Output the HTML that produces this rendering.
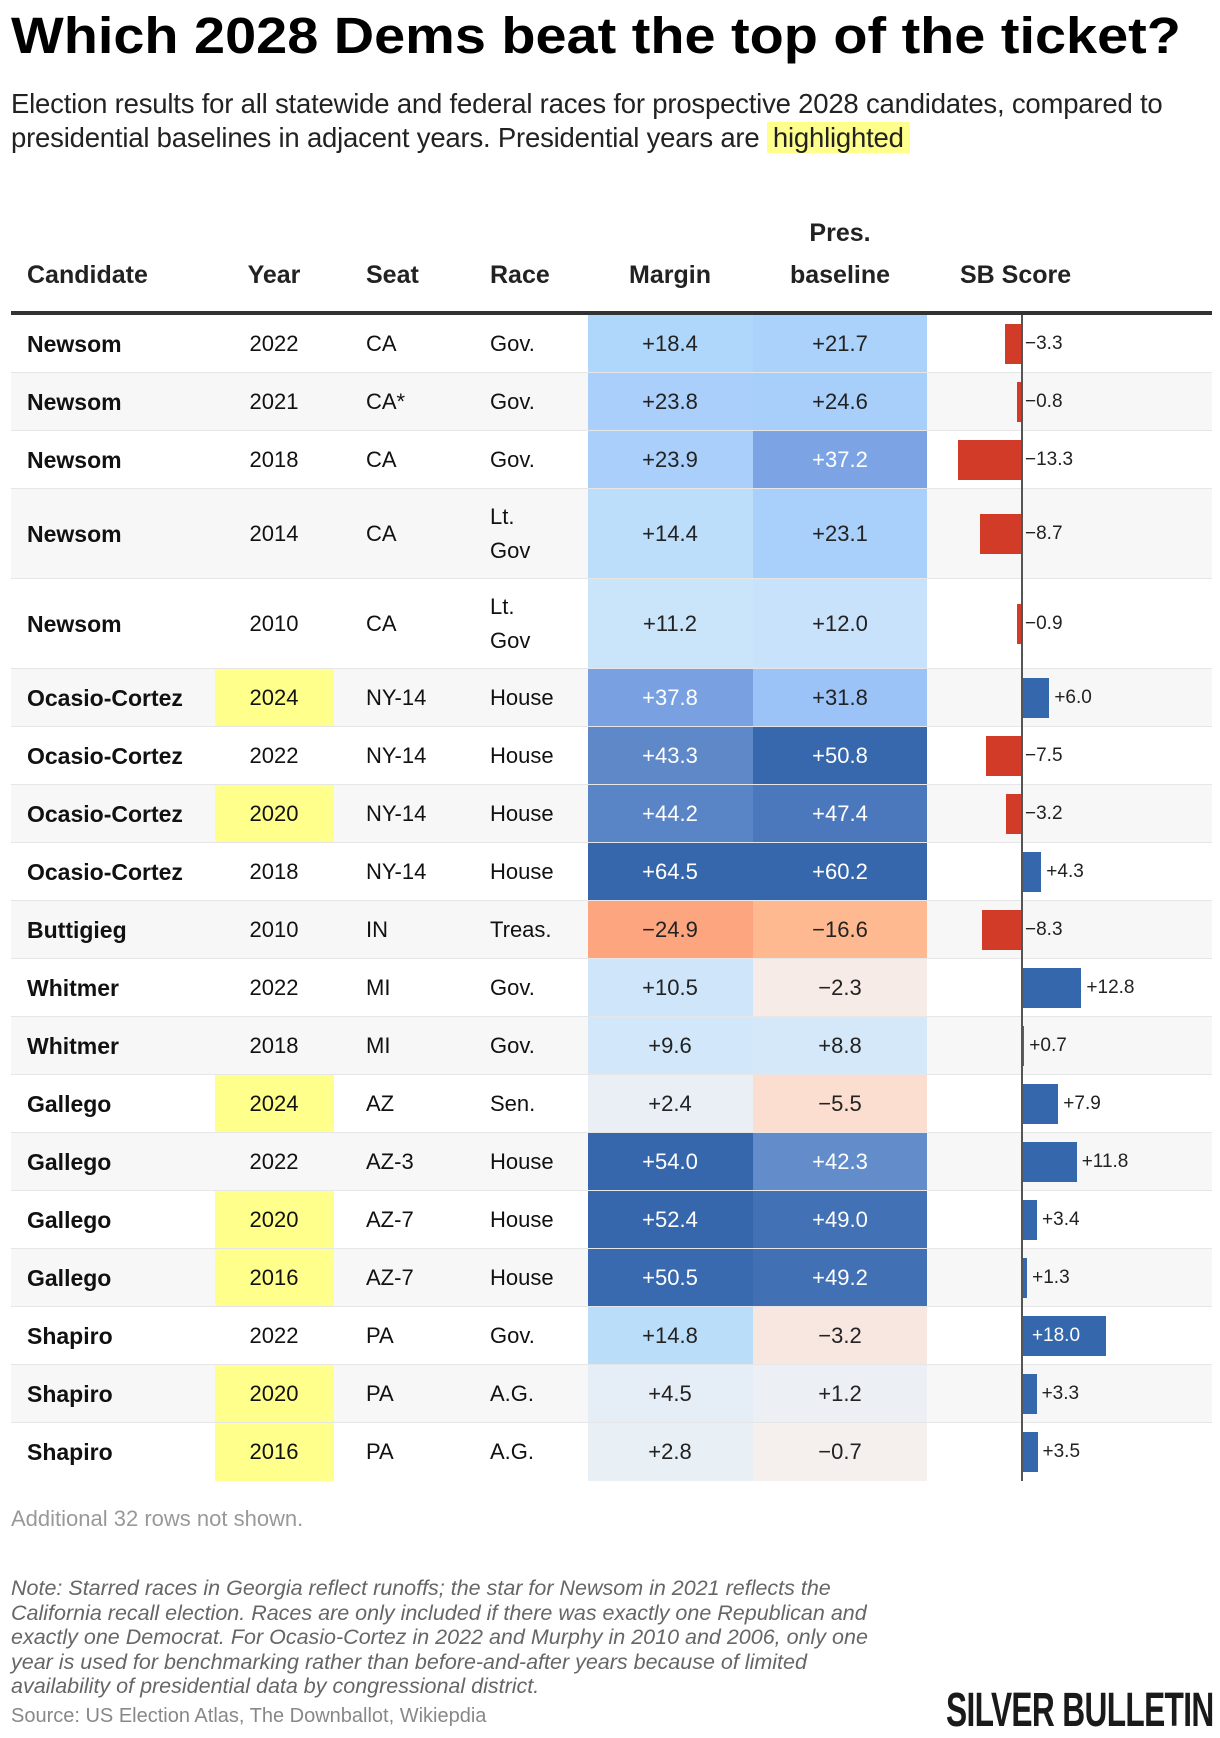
<!DOCTYPE html>
<html><head><meta charset="utf-8">
<style>
body{margin:0;width:1220px;height:1736px;background:#fff;position:relative;overflow:hidden;font-family:"Liberation Sans",sans-serif;color:#111}
.abs{position:absolute;white-space:nowrap}
#title{left:11px;top:6px;font-weight:bold;font-size:51px;color:#000;transform:scaleX(1.095);transform-origin:left top}
.sub{left:11px;font-size:27.5px;color:#222;letter-spacing:-0.2px}
.hl{background:#ffff8c;padding:0 6px}
.hdr{font-weight:bold;font-size:25px;color:#222}
.cell{font-size:22px;line-height:30px}
.cand{font-weight:bold;font-size:23px}
#note{left:11px;top:1576px;font-style:italic;font-size:21.5px;color:#666;line-height:24.5px;white-space:normal;width:865px}
</style></head><body>
<div class="abs" id="title">Which 2028 Dems beat the top of the ticket?</div>
<div class="abs sub" style="top:88px">Election results for all statewide and federal races for prospective 2028 candidates, compared to</div>
<div class="abs sub" style="top:122px">presidential baselines in adjacent years. Presidential years are <span class="hl">highlighted</span></div>

<div class="abs hdr" style="left:27px;top:261px">Candidate</div>
<div class="abs hdr" style="left:274px;top:261px;transform:translateX(-50%)">Year</div>
<div class="abs hdr" style="left:366px;top:261px">Seat</div>
<div class="abs hdr" style="left:490px;top:261px">Race</div>
<div class="abs hdr" style="left:670px;top:261px;transform:translateX(-50%)">Margin</div>
<div class="abs hdr" style="left:840px;top:219px;transform:translateX(-50%)">Pres.</div>
<div class="abs hdr" style="left:840px;top:261px;transform:translateX(-50%)">baseline</div>
<div class="abs hdr" style="left:960px;top:261px">SB Score</div>
<div class="abs" style="left:11px;top:311px;width:1201px;height:4px;background:#333"></div>

<div id="rows"></div>

<div class="abs" style="left:11px;top:1506px;font-size:22px;color:#999">Additional 32 rows not shown.</div>
<div class="abs" id="note">Note: Starred races in Georgia reflect runoffs; the star for Newsom in 2021 reflects the California recall election. Races are only included if there was exactly one Republican and exactly one Democrat. For Ocasio-Cortez in 2022 and Murphy in 2010 and 2006, only one year is used for benchmarking rather than before-and-after years because of limited availability of presidential data by congressional district.</div>
<div class="abs" style="left:11px;top:1705px;font-size:20px;color:#888">Source: US Election Atlas, The Downballot, Wikiepdia</div>
<div class="abs" style="left:946px;top:1683px;font-size:48px;font-weight:bold;color:#1a1a1a;letter-spacing:-1px;transform:scaleX(0.66);transform-origin:left top">SILVER BULLETIN</div>

<script>
const candidates=["Newsom","Newsom","Newsom","Newsom","Newsom","Ocasio-Cortez","Ocasio-Cortez","Ocasio-Cortez","Ocasio-Cortez","Buttigieg","Whitmer","Whitmer","Gallego","Gallego","Gallego","Gallego","Shapiro","Shapiro","Shapiro"];
const years=[2022,2021,2018,2014,2010,2024,2022,2020,2018,2010,2022,2018,2024,2022,2020,2016,2022,2020,2016];
const seats=["CA","CA*","CA","CA","CA","NY-14","NY-14","NY-14","NY-14","IN","MI","MI","AZ","AZ-3","AZ-7","AZ-7","PA","PA","PA"];
const races=["Gov.","Gov.","Gov.","Lt.|Gov","Lt.|Gov","House","House","House","House","Treas.","Gov.","Gov.","Sen.","House","House","House","Gov.","A.G.","A.G."];
const margins=[18.4,23.8,23.9,14.4,11.2,37.8,43.3,44.2,64.5,-24.9,10.5,9.6,2.4,54.0,52.4,50.5,14.8,4.5,2.8];
const baselines=[21.7,24.6,37.2,23.1,12.0,31.8,50.8,47.4,60.2,-16.6,-2.3,8.8,-5.5,42.3,49.0,49.2,-3.2,1.2,-0.7];
const sbScores=[-3.3,-0.8,-13.3,-8.7,-0.9,6.0,-7.5,-3.2,4.3,-8.3,12.8,0.7,7.9,11.8,3.4,1.3,18.0,3.3,3.5];

const ZERO=1021, PXU=4.72;
function sx(v){return ZERO+v*PXU;}
function fmt(v){return (v<0?"\u2212":"+")+Math.abs(v).toFixed(1);}
const posStops=[[0,[238,241,244]],[5,[228,237,246]],[10,[208,230,250]],[15,[185,221,250]],[20,[171,212,252]],[25,[168,206,250]],[32,[155,195,248]],[37,[125,165,229]],[43,[95,137,200]],[48,[72,118,187]],[51,[54,103,172]],[70,[54,103,172]]];
const negStops=[[0,[244,241,240]],[2.5,[247,234,230]],[6,[252,220,204]],[16,[254,186,146]],[25,[252,165,127]],[40,[245,130,95]]];
function interp(stops,a){for(let i=1;i<stops.length;i++){if(a<=stops[i][0]){const [x0,c0]=stops[i-1],[x1,c1]=stops[i];const t=(a-x0)/(x1-x0);return 'rgb('+c0.map((c,k)=>Math.round(c+(c1[k]-c)*t)).join(',')+')';}}return 'rgb('+stops[stops.length-1][1].join(',')+')';}
function color(v){return v>=0?interp(posStops,v):interp(negStops,-v);}

const root=document.getElementById('rows');
let y=315;
function div(css,txt){const d=document.createElement('div');d.className='abs';d.style.cssText=css;if(txt!==undefined)d.textContent=txt;root.appendChild(d);return d;}
for(let i=0;i<candidates.length;i++){
  const tall=races[i].includes('|');
  const h=tall?90:58;
  const mid=y+h/2;
  const ty=mid-15;
  const bg=div(`left:11px;top:${y}px;width:1201px;height:${h}px;background:${i%2?'#f7f7f7':'#fff'}`);
  
  
  const presYear=years[i]%4===0;
  if(presYear){const hy=div(`left:215px;top:${y}px;width:119px;height:${h}px;background:#ffff8c`);
    
    }
  const c=div(`left:27px;top:${ty}px`,candidates[i]);c.classList.add('cell','cand');
  
  
  const yr=div(`left:274px;top:${ty}px;transform:translateX(-50%)`,years[i]);yr.classList.add('cell');
  
  
  const st=div(`left:366px;top:${ty}px`,seats[i]);st.classList.add('cell');
  
  
  const rc=div(`left:490px;top:${tall?mid-34:ty}px;line-height:${tall?34:30}px`);rc.classList.add('cell');rc.innerHTML=races[i].split('|').join('<br>');
  
  
  const m=div(`left:588px;top:${y}px;width:165px;height:${h}px;background:${color(margins[i])}`);
  
  
  const mt=div(`left:670px;top:${ty}px;transform:translateX(-50%);color:${margins[i]>=36?'#fff':'#222'}`,fmt(margins[i]));mt.classList.add('cell');
  
  
  const b=div(`left:753px;top:${y}px;width:174px;height:${h}px;background:${color(baselines[i])}`);
  
  
  const bt=div(`left:840px;top:${ty}px;transform:translateX(-50%);color:${baselines[i]>=36?'#fff':'#222'}`,fmt(baselines[i]));bt.classList.add('cell');
  
  
  const v=sbScores[i];
  const x0=Math.min(sx(0),sx(v)),w=Math.abs(sx(v)-sx(0));
  const bar=div(`left:${x0}px;top:${mid-20}px;width:${w}px;height:40px;background:${v<0?'#d13b27':'#3567ad'}`);
  
  
  const inside=v>=15;
  const lx=v<0?ZERO+4:(inside?sx(v)-74:sx(v)+5);
  const lb=div(`left:${lx}px;top:${mid-11}px;font-size:19px;color:${inside?'#fff':'#222'}`,fmt(v));
  
  
  y+=h;
  if(i<candidates.length-1){const ln=div(`left:11px;top:${y-1}px;width:1201px;height:2px;background:#e6e6e6`);
    
    }
}
const zl=div(`left:${ZERO}px;top:315px;width:2px;height:${y-315}px;background:#555`);


</script>
</body></html>
